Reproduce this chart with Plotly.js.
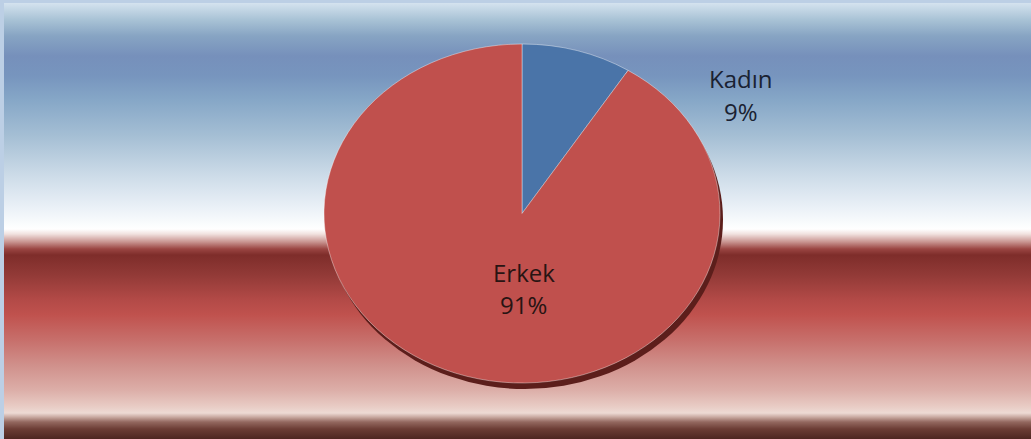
<!DOCTYPE html>
<html>
<head>
<meta charset="utf-8">
<script src="https://cdn.plot.ly/plotly-3.0.1.min.js"></script>
<style>
  html, body { margin: 0; padding: 0; }
  #wrap {
    position: relative; width: 1031px; height: 439px; overflow: hidden;
    background: linear-gradient(to bottom,
      #dce8f3 0px, #c7d9e7 8px, #a8c2d5 20px, #87a4c3 36px, #7690bb 56px,
      #7795be 76px, #86a7c7 100px, #a4bed4 135px, #ccdbe8 175px,
      #e8eff6 205px, #fafcfd 224px, #ffffff 229px, #f1e2df 234px,
      #c8938f 242px, #9a4542 249px, #7e2d2a 255px, #923a37 275px,
      #b34a47 300px, #c0524e 315px, #c76f6b 340px, #d0908b 365px,
      #dcaea8 390px, #e8cbc4 406px, #eddad4 413px, #c9aaa2 417px,
      #93685f 422px, #6c3d35 429px, #4e2621 439px);
  }
  #plot { position: absolute; left: 0; top: 0; width: 1031px; height: 439px; }
  #frame {
    position: absolute; left: 0; top: 0; width: 1031px; height: 439px;
    box-sizing: border-box; border-top: 3px solid #bccfe5; border-left: 4px solid #bccfe5;
    pointer-events: none;
  }
</style>
</head>
<body>
<div id="wrap">
  <div id="plot"></div>
  <div id="frame"></div>
</div>
<script>
// Data
var labels = ["Kadın", "Erkek"];
var values = [9, 91];
var sliceColors = ["#4a74a8", "#c0504d"];

var total = values.reduce(function (a, b) { return a + b; }, 0);
var pct = values.map(function (v) { return Math.round(v / total * 100) + "%"; });

// Layout geometry (pixels in a 1031x439 page)
var W = 1031, H = 439;
var cx = 522, cy = 213.5, ry = 169.5, rx = 198;
function px(x) { return x / W; }
function py(y) { return 1 - y / H; }

var trace = {
  type: "pie",
  labels: labels,
  values: values,
  sort: false,
  direction: "clockwise",
  rotation: 0,
  textinfo: "none",
  hoverinfo: "label+percent",
  marker: { colors: sliceColors, line: { color: "rgba(255,255,255,0.45)", width: 0.8 } },
  domain: { x: [px(cx) - 0.25, px(cx) + 0.25], y: [py(cy + ry), py(cy - ry)] },
  showlegend: false
};

var labelPos = [
  { name: [741, 79], pct: [741, 111], color: "#1a2232" },
  { name: [524, 272], pct: [523, 304], color: "#281413" }
];

var annotations = [];
labels.forEach(function (lab, i) {
  var p = labelPos[i];
  annotations.push({
    xref: "paper", yref: "paper", x: px(p.name[0]), y: py(p.name[1]),
    xanchor: "center", yanchor: "middle", showarrow: false, text: lab,
    font: { family: "Open Sans, sans-serif", size: 24, color: p.color }
  });
  annotations.push({
    xref: "paper", yref: "paper", x: px(p.pct[0]), y: py(p.pct[1]),
    xanchor: "center", yanchor: "middle", showarrow: false, text: pct[i],
    font: { family: "Open Sans, sans-serif", size: 24, color: p.color }
  });
});

var layout = {
  width: W, height: H,
  margin: { l: 0, r: 0, t: 0, b: 0 },
  paper_bgcolor: "rgba(0,0,0,0)",
  plot_bgcolor: "rgba(0,0,0,0)",
  showlegend: false,
  annotations: annotations,
  shapes: [{
    type: "circle", xref: "paper", yref: "paper", layer: "below",
    x0: px(cx - rx + 3), x1: px(cx + rx + 3),
    y0: py(cy + ry + 6), y1: py(cy - ry + 6),
    fillcolor: "#5c1e1b", line: { width: 0 }
  }]
};

Plotly.newPlot("plot", [trace], layout, { displayModeBar: false, staticPlot: true }).then(function () {
  // Stretch the pie horizontally about its centre to mimic the tilted (elliptical) look
  var sx = rx / ry;
  var g = document.querySelector("#plot .pielayer");
  if (g) {
    g.setAttribute("transform",
      "translate(" + cx + "," + cy + ") scale(" + sx + ",1) translate(" + (-cx) + "," + (-cy) + ")");
  }
});
</script>
</body>
</html>
